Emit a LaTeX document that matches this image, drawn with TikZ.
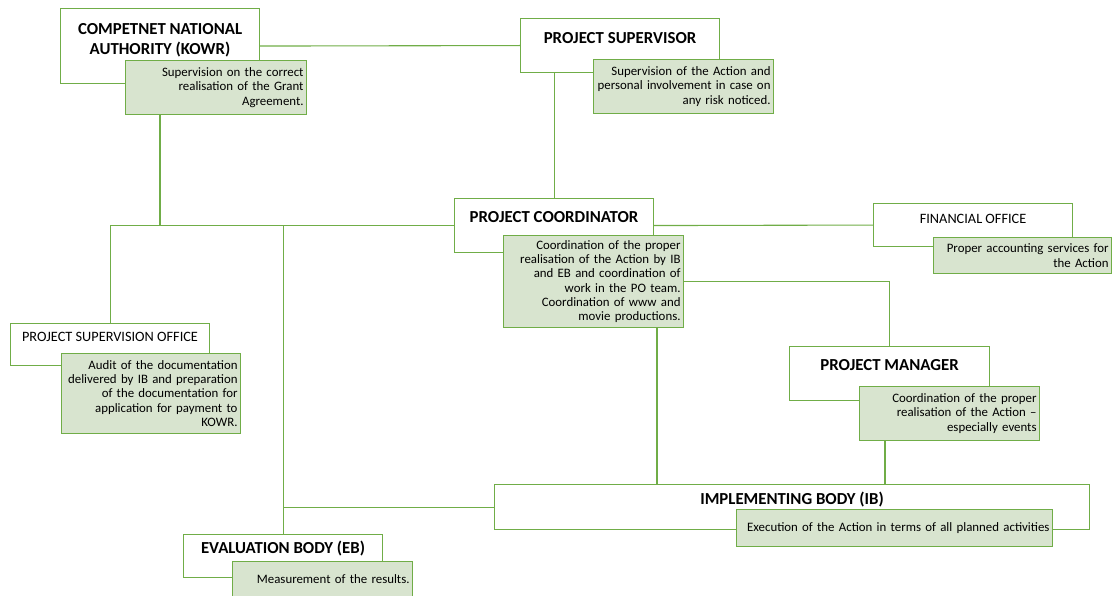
\documentclass[tikz,border=0pt]{standalone}
\usepackage{fontspec}
\setmainfont{Carlito}
\usepackage{xcolor}
\usepackage{tikz}
\usetikzlibrary{positioning}
\definecolor{orggreen}{HTML}{70AD47}
\definecolor{dutygreen}{HTML}{D8E4CF}
\hyphenpenalty=10000 % no hyphenation in the task boxes
\tikzset{
	unit/.style={draw=orggreen, fill=white, line width=1.1pt, anchor=north west, inner sep=0pt, minimum width=199pt}, % white box with the name of the body
	duty/.style 2 args={draw=orggreen, fill=dutygreen, line width=1.1pt, anchor=north west, inner xsep=3pt, inner ysep=0pt, text width=#1pt, minimum height=#2pt, align=right, font=\fontsize{12.85}{14.2}\selectfont}, % green box with its tasks
	head/.style={anchor=base, inner sep=0pt, align=center, font=\bfseries\fontsize{16.8}{19.5}\selectfont}, % bold name
	plainhead/.style={head, font=\fontsize{14.3}{17}\selectfont}, % plain name
	link/.style={draw=orggreen, line width=1.1pt}, % lines between the boxes
	hv/.style={to path={-| (\tikztotarget)}}, % horizontal, then vertical
}

\begin{document}
\begin{tikzpicture}[x=1pt, y=-1pt]
		\useasboundingbox (0,0) rectangle (1113,596);
		% Boxes
		\node[unit, minimum height=75pt] (kowr) at (60,8) {};
		\node[head, anchor=north, yshift=-15.6pt] (kowr-name) at (kowr.north) {COMPETNET NATIONAL\\AUTHORITY (KOWR)};
		\node[duty={175}{54}] (kowr-duty) at (125,60) {Supervision on the correct\\realisation of the Grant\\Agreement.};
		
		\node[unit, minimum height=54pt] (ps) at (520,18) {};
		\node[head, yshift=-25.4pt] (ps-name) at (ps.north) {PROJECT SUPERVISOR};
		\node[duty={174}{54}] (ps-duty) at (593,59) {Supervision of the Action and\\personal involvement in case on\\any risk noticed.};
		
		\node[unit, minimum height=54pt] (pc) at (454,198) {};
		\node[head, yshift=-24.4pt] (pc-name) at (pc.north) {PROJECT COORDINATOR};
		\node[duty={174}{92}] (pc-duty) at (503,235) {Coordination of the proper\\realisation of the Action by IB\\and EB and coordination of\\work in the PO team.\\Coordination of www and\\movie productions.};
		
		\node[unit, minimum height=43pt] (fo) at (873,203) {};
		\node[plainhead, yshift=-20.6pt] (fo-name) at (fo.north) {FINANCIAL OFFICE};
		\node[duty={172}{36}] (fo-duty) at (933,237) {Proper accounting services for\\the Action};
		
		\node[unit, minimum height=42pt] (pso) at (10,323) {};
		\node[plainhead, yshift=-18.6pt] (pso-name) at (pso.north) {PROJECT SUPERVISION OFFICE};
		\node[duty={173}{80}] (pso-duty) at (61,353) {Audit of the documentation\\delivered by IB and preparation\\of the documentation for\\application for payment to\\KOWR.};
		
		\node[unit, minimum width=200pt, minimum height=54pt] (pm) at (789,346) {};
		\node[head, yshift=-24.4pt] (pm-name) at (pm.north) {PROJECT MANAGER};
		\node[duty={174}{54}] (pm-duty) at (859,386) {Coordination of the proper\\realisation of the Action --\\especially events};
		
		\node[unit, minimum width=595pt, minimum height=45pt] (ib) at (494,484) {};
		\node[head, yshift=-20.4pt] (ib-name) at (ib.north) {IMPLEMENTING BODY (IB)};
		\node[duty={310}{37}] (ib-duty) at (736,509) {Execution of the Action in terms of all planned activities};
		
		\node[unit, minimum height=43pt] (eb) at (183,534) {};
		\node[head, yshift=-19.4pt] (eb-name) at (eb.north) {EVALUATION BODY (EB)};
		\node[duty={174}{36}] (eb-duty) at (232,561) {Measurement of the results.};
		
		% Connections
		\path[link]
		(kowr.east) edge (ps.west)
		(pc.north) edge (pc.north |- ps.south)
		(pc.east) edge (fo.west)
		(pc-duty.east) edge[hv] (pm.north)
		(pc.west) edge[hv] (pso.north)
		([xshift=35pt]kowr-duty.south west) edge ([xshift=35pt]kowr-duty.south west |- pc.west)
		(eb.north) edge (eb.north |- pc.west)
		(ib.west) edge (ib.west -| eb.north)
		([xshift=163pt]ib.north west) edge ([xshift=163pt]ib.north west |- pc-duty.south)
		([xshift=26pt]pm-duty.south west) edge ([xshift=26pt]pm-duty.south west |- ib.north);
	\end{tikzpicture}
\end{document}
